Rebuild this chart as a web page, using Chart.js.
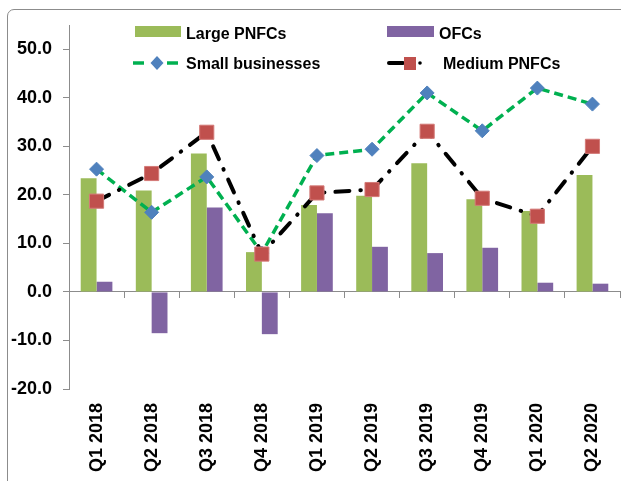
<!DOCTYPE html>
<html>
<head>
<meta charset="utf-8">
<script src="https://cdn.jsdelivr.net/npm/chart.js@4.4.1/dist/chart.umd.min.js"></script>
<style>
  html, body { margin: 0; padding: 0; background: #fff; }
  #wrap { position: relative; width: 621px; height: 481px; overflow: hidden; }
  #frame { position: absolute; left: 7px; top: 9px; width: 700px; height: 600px;
           border: 1px solid #8c8c8c; border-radius: 7px; box-sizing: border-box; }
  #chart { position: absolute; left: 0; top: 0; }
  .lg { position: absolute; font-family: "Liberation Sans", Arial, sans-serif;
        font-weight: bold; font-size: 16px; line-height: 16px; color: #000; white-space: nowrap; }
  #legendSym { position: absolute; left: 0; top: 0; }
</style>
</head>
<body>
<div id="wrap">
  <div id="frame"></div>
  <canvas id="chart" width="621" height="481"></canvas>
  <svg id="legendSym" width="621" height="90">
    <rect x="135" y="26" width="46" height="11" fill="#9BBB59"/>
    <rect x="387" y="26" width="47" height="11" fill="#8064A2"/>
    <line x1="133" y1="63" x2="144" y2="63" stroke="#00B050" stroke-width="3.5"/>
    <line x1="167" y1="63" x2="178" y2="63" stroke="#00B050" stroke-width="3.5"/>
    <polygon points="157,56 163.5,63 157,70 150.5,63" fill="#4F81BD"/>
    <line x1="389" y1="63" x2="403" y2="63" stroke="#000" stroke-width="4" stroke-linecap="round"/>
    <rect x="404" y="57" width="12" height="13" fill="#C0504D"/>
    <circle cx="420" cy="63" r="1.8" fill="#000"/>
  </svg>
  <div class="lg" style="left:186px; top:26px;">Large PNFCs</div>
  <div class="lg" style="left:439px; top:26px;">OFCs</div>
  <div class="lg" style="left:186px; top:56px;">Small businesses</div>
  <div class="lg" style="left:443px; top:56px;">Medium PNFCs</div>
</div>
<script>
// Quarterly categories
const quarters = ["Q1 2018", "Q2 2018", "Q3 2018", "Q4 2018", "Q1 2019",
                  "Q2 2019", "Q3 2019", "Q4 2019", "Q1 2020", "Q2 2020"];

// Series values
const largePNFCs      = [23.4, 20.9, 28.5, 8.2, 17.9, 19.8, 26.5, 19.1, 16.7, 24.1];
const ofcs            = [2.1, -8.5, 17.4, -8.7, 16.2, 9.3, 8.0, 9.1, 1.9, 1.7];
const smallBusinesses = [25.3, 16.4, 23.7, 8.0, 28.1, 29.4, 41.0, 33.2, 42.0, 38.7];
const mediumPNFCs     = [18.7, 24.4, 32.9, 7.8, 20.4, 21.1, 33.1, 19.3, 15.6, 30.0];

// Value axis range and labelled ticks
const yMin = -20, yMax = 55, yStep = 10, yTopLabel = 50;

const tickFont = { family: "'Liberation Sans', Arial, sans-serif", weight: 'bold', size: 18 };

// Keep the plot area flush with the right edge
const noSidePadding = s => { s.paddingLeft = 0; s.paddingRight = 0; };

new Chart(document.getElementById('chart'), {
  type: 'bar',
  data: {
    labels: quarters,
    datasets: [
      { type: 'line', label: 'Medium PNFCs', data: mediumPNFCs, order: 1,
        borderColor: '#000', borderWidth: 4, borderDash: [14, 11, 0.5, 11], borderCapStyle: 'round',
        pointStyle: 'rect', pointRadius: 10, pointHoverRadius: 10,
        pointBackgroundColor: '#C0504D', pointBorderColor: '#D47a78', pointBorderWidth: 1,
        tension: 0, fill: false, clip: false },
      { type: 'line', label: 'Small businesses', data: smallBusinesses, order: 2,
        borderColor: '#00B050', borderWidth: 3.5, borderDash: [9, 5],
        pointStyle: 'rectRot', pointRadius: 7, pointHoverRadius: 7,
        pointBackgroundColor: '#4F81BD', pointBorderColor: '#4F81BD', pointBorderWidth: 1,
        tension: 0, fill: false, clip: false },
      { label: 'Large PNFCs', data: largePNFCs, backgroundColor: '#9BBB59', order: 3,
        barPercentage: 1, categoryPercentage: 0.575 },
      { label: 'OFCs', data: ofcs, backgroundColor: '#8064A2', order: 3,
        barPercentage: 1, categoryPercentage: 0.575 }
    ]
  },
  options: {
    responsive: false,
    animation: false,
    layout: { autoPadding: false, padding: { top: 25, right: 1, left: 0, bottom: 0 } },
    plugins: { legend: { display: false }, tooltip: { enabled: false } },
    scales: {
      x: {
        position: 'bottom',
        offset: true,
        border: { display: false },
        grid: { display: false, drawTicks: false },
        ticks: { font: tickFont, color: '#000', minRotation: 90, maxRotation: 90, padding: 14,
                 autoSkip: false },
        afterFit: s => { s.height = 92; noSidePadding(s); }
      },
      xZero: {
        type: 'category',
        position: { y: 0 },
        offset: true,
        border: { display: true, color: '#8c8c8c', width: 1 },
        grid: { offset: true, drawOnChartArea: false, drawTicks: true, tickLength: 6,
                color: '#8c8c8c', tickColor: '#8c8c8c' },
        ticks: { display: false },
        afterFit: noSidePadding
      },
      y: {
        min: yMin, max: yMax,
        border: { display: true, color: '#8c8c8c', width: 1 },
        grid: { drawOnChartArea: false, drawTicks: true, tickLength: 6, tickColor: '#8c8c8c' },
        ticks: { stepSize: yStep, font: tickFont, color: '#000', padding: 11,
                 callback: v => v.toFixed(1) },
        afterBuildTicks: s => { s.ticks = s.ticks.filter(t => t.value <= yTopLabel); },
        afterFit: s => { s.width = 69; }
      }
    }
  }
});
</script>
</body>
</html>
